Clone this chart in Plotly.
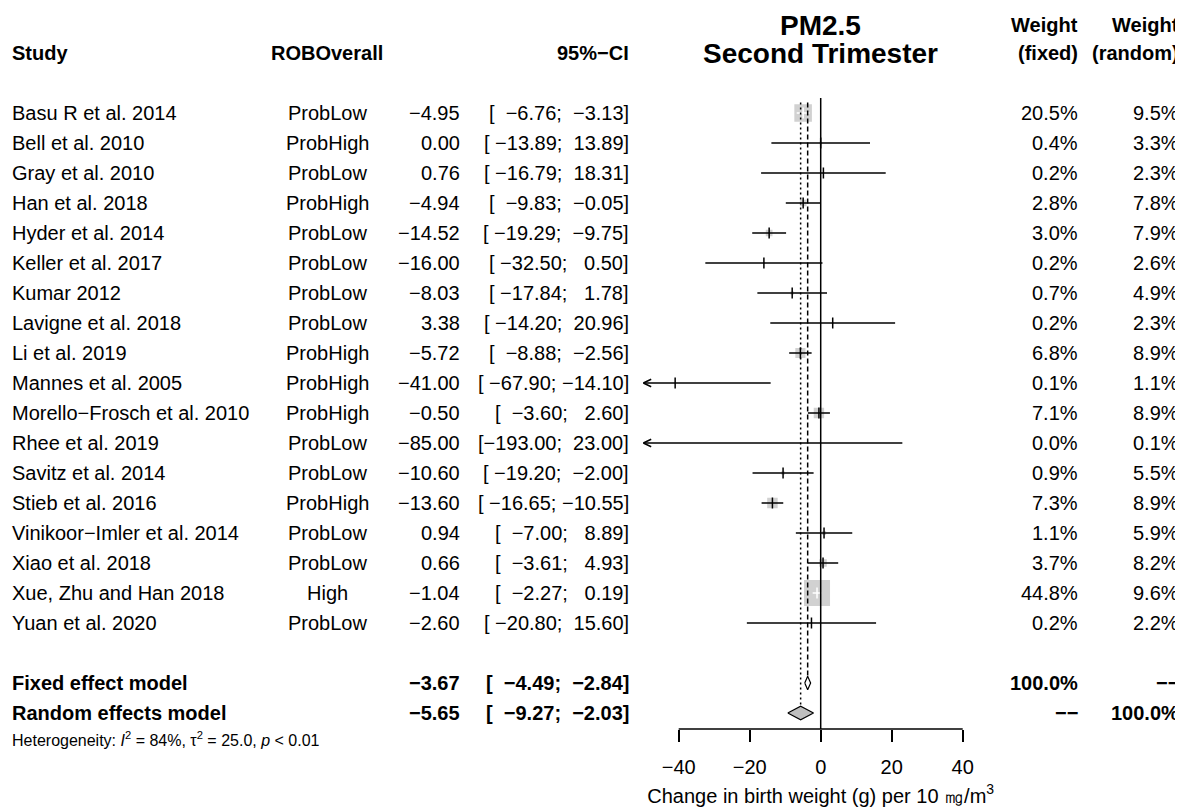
import math
import plotly.graph_objects as go

# ---------------- data ----------------
studies = ["Basu R et al. 2014", "Bell et al. 2010", "Gray et al. 2010", "Han et al. 2018",
           "Hyder et al. 2014", "Keller et al. 2017", "Kumar 2012", "Lavigne et al. 2018",
           "Li et al. 2019", "Mannes et al. 2005", "Morello\u2212Frosch et al. 2010",
           "Rhee et al. 2019", "Savitz et al. 2014", "Stieb et al. 2016",
           "Vinikoor\u2212Imler et al. 2014", "Xiao et al. 2018", "Xue, Zhu and Han 2018",
           "Yuan et al. 2020"]
rob = ["ProbLow", "ProbHigh", "ProbLow", "ProbHigh", "ProbLow", "ProbLow", "ProbLow",
       "ProbLow", "ProbHigh", "ProbHigh", "ProbHigh", "ProbLow", "ProbLow", "ProbHigh",
       "ProbLow", "ProbLow", "High", "ProbLow"]
te = [-4.95, 0.00, 0.76, -4.94, -14.52, -16.00, -8.03, 3.38, -5.72, -41.00, -0.50,
      -85.00, -10.60, -13.60, 0.94, 0.66, -1.04, -2.60]
lower = [-6.76, -13.89, -16.79, -9.83, -19.29, -32.50, -17.84, -14.20, -8.88, -67.90,
         -3.60, -193.00, -19.20, -16.65, -7.00, -3.61, -2.27, -20.80]
upper = [-3.13, 13.89, 18.31, -0.05, -9.75, 0.50, 1.78, 20.96, -2.56, -14.10, 2.60,
         23.00, -2.00, -10.55, 8.89, 4.93, 0.19, 15.60]
w_fixed = [20.5, 0.4, 0.2, 2.8, 3.0, 0.2, 0.7, 0.2, 6.8, 0.1, 7.1, 0.0, 0.9, 7.3, 1.1,
           3.7, 44.8, 0.2]
w_random = [9.5, 3.3, 2.3, 7.8, 7.9, 2.6, 4.9, 2.3, 8.9, 1.1, 8.9, 0.1, 5.5, 8.9, 5.9,
            8.2, 9.6, 2.2]

fixed_te, fixed_lo, fixed_hi = -3.67, -4.49, -2.84
random_te, random_lo, random_hi = -5.65, -9.27, -2.03
het_I2, het_tau2, het_p = "84%", "25.0", "0.01"

x_ticks = [-40, -20, 0, 20, 40]
x_ticktext = ["\u221240", "\u221220", "0", "20", "40"]
xlim = [-50, 50]

# ---------------- layout constants ----------------
OFF = 8                            # page body margin
FIG_W, FIG_H = 1183 - OFF, 808 - OFF
ROW0_PX, ROW_H = 113 - OFF, 30     # figure-pixel centre of first study row, row height
AXIS_PX = 729 - OFF                # figure-pixel y of the forest x axis
ZERO_PX, PX_PER_UNIT = 820.7 - OFF, 3.55
FONT = "Liberation Sans, Arial, Helvetica, sans-serif"
GRAY = "#BEBEBE"
N = len(studies)
ROW_FIXED, ROW_RANDOM, ROW_HET = N + 1, N + 2, N + 3
ROW_HEAD = -2
ROW_TITLE = -2.93


def row_paper(r):
    return 1 - (ROW0_PX + ROW_H * r) / FIG_H


def xp(px):
    return (px - OFF) / FIG_W


def minus(s):
    return s.replace("-", "\u2212")


def fmt(v):
    return f"{v:.2f}"


lo_w = max(len(fmt(v)) for v in lower)
hi_w = max(len(fmt(v)) for v in upper)


def ci_text(lo, hi):
    a = fmt(lo).rjust(lo_w)
    b = fmt(hi).rjust(hi_w)
    return minus("[" + a + "; " + b + "]").replace(" ", "\u00a0")


fig = go.Figure()

# ---------------- forest marks ----------------
max_w = max(w_fixed)
sq = [26 * math.sqrt(w / max_w) for w in w_fixed]
vis = [i for i in range(N) if xlim[0] <= te[i] <= xlim[1] and sq[i] > 0]
fig.add_trace(go.Scatter(
    x=[te[i] for i in vis], y=[i for i in vis], mode="markers",
    marker=dict(symbol="square", size=[sq[i] for i in vis], color=GRAY,
                line=dict(width=0)),
    hoverinfo="skip", showlegend=False))

inside = [(upper[i] - lower[i]) * PX_PER_UNIT < sq[i] for i in range(N)]
for colour, flag in (("black", False), ("white", True)):
    xs, ys = [], []
    for i in range(N):
        if inside[i] != flag:
            continue
        xs += [max(lower[i], xlim[0]), min(upper[i], xlim[1]), None]
        ys += [i, i, None]
    fig.add_trace(go.Scatter(x=xs, y=ys, mode="lines",
                             line=dict(color=colour, width=1.5),
                             hoverinfo="skip", showlegend=False))
    idx = [i for i in range(N) if inside[i] == flag and xlim[0] <= te[i] <= xlim[1]]
    fig.add_trace(go.Scatter(
        x=[te[i] for i in idx], y=idx, mode="markers",
        marker=dict(symbol="line-ns", size=8, line=dict(color=colour, width=1.5)),
        hoverinfo="skip", showlegend=False))

# arrows for clipped CIs
ax_len = 8 / PX_PER_UNIT
ay_len = 3.8 / ROW_H
xs, ys = [], []
for i in range(N):
    if lower[i] < xlim[0]:
        xs += [xlim[0] + ax_len, xlim[0], xlim[0] + ax_len, None]
        ys += [i - ay_len, i, i + ay_len, None]
    if upper[i] > xlim[1]:
        xs += [xlim[1] - ax_len, xlim[1], xlim[1] - ax_len, None]
        ys += [i - ay_len, i, i + ay_len, None]
fig.add_trace(go.Scatter(x=xs, y=ys, mode="lines", line=dict(color="black", width=1.5),
                         hoverinfo="skip", showlegend=False))

# vertical reference lines
dh = 6.8 / ROW_H
fig.add_trace(go.Scatter(x=[0, 0], y=[-0.5, (AXIS_PX - ROW0_PX) / ROW_H], mode="lines",
                         line=dict(color="black", width=1.5), hoverinfo="skip",
                         showlegend=False))
fig.add_trace(go.Scatter(x=[fixed_te, fixed_te], y=[-0.35, ROW_FIXED - dh], mode="lines",
                         line=dict(color="black", width=1.5, dash="5px,3px"),
                         hoverinfo="skip", showlegend=False))
fig.add_trace(go.Scatter(x=[random_te, random_te], y=[-0.35, ROW_RANDOM - dh], mode="lines",
                         line=dict(color="black", width=1.5, dash="2px,3px"),
                         hoverinfo="skip", showlegend=False))

# diamonds
for (t, lo, hi, r, fill) in ((fixed_te, fixed_lo, fixed_hi, ROW_FIXED, "white"),
                             (random_te, random_lo, random_hi, ROW_RANDOM, GRAY)):
    fig.add_trace(go.Scatter(x=[lo, t, hi, t, lo], y=[r, r - dh, r, r + dh, r],
                             mode="lines", fill="toself", fillcolor=fill,
                             line=dict(color="black", width=1.2),
                             hoverinfo="skip", showlegend=False))

# ---------------- text columns ----------------
ann = []


def add(text, xpx, row, anchor, size=20, bold=False, ypaper=None):
    if bold:
        text = "<b>" + text + "</b>"
    ann.append(dict(text=text, x=xp(xpx), y=row_paper(row) if ypaper is None else ypaper,
                    xref="paper", yref="paper", xanchor=anchor, yanchor="middle",
                    showarrow=False, font=dict(family=FONT, size=size, color="black")))


# page-pixel x positions of text columns
X_STUDY, X_ROB, X_TE, X_CI, X_WF, X_WR = 10, 327, 462, 631, 1080, 1181
X_TITLE = ZERO_PX + OFF

add("Study", X_STUDY, ROW_HEAD, "left", bold=True)
add("ROBOverall", X_ROB, ROW_HEAD, "center", bold=True)
add("95%\u2212CI", X_CI, ROW_HEAD, "right", bold=True)
add("Weight", X_WF, ROW_TITLE, "right", bold=True)
add("(fixed)", X_WF, ROW_HEAD, "right", bold=True)
add("Weight", X_WR, ROW_TITLE, "right", bold=True)
add("(random)", X_WR, ROW_HEAD, "right", bold=True)
add("PM2.5", X_TITLE, ROW_TITLE, "center", size=28, bold=True)
add("Second Trimester", X_TITLE, ROW_HEAD, "center", size=28, bold=True)

for i in range(N):
    add(studies[i], X_STUDY, i, "left")
    add(rob[i], X_ROB, i, "center")
    add(minus(fmt(te[i])), X_TE, i, "right")
    add(ci_text(lower[i], upper[i]), X_CI, i, "right")
    add(f"{w_fixed[i]:.1f}%", X_WF, i, "right")
    add(f"{w_random[i]:.1f}%", X_WR, i, "right")

add("Fixed effect model", X_STUDY, ROW_FIXED, "left", bold=True)
add(minus(fmt(fixed_te)), X_TE, ROW_FIXED, "right", bold=True)
add(ci_text(fixed_lo, fixed_hi), X_CI, ROW_FIXED, "right", bold=True)
add("100.0%", X_WF, ROW_FIXED, "right", bold=True)
add("\u2212\u2212", X_WR, ROW_FIXED, "right", bold=True)

add("Random effects model", X_STUDY, ROW_RANDOM, "left", bold=True)
add(minus(fmt(random_te)), X_TE, ROW_RANDOM, "right", bold=True)
add(ci_text(random_lo, random_hi), X_CI, ROW_RANDOM, "right", bold=True)
add("\u2212\u2212", X_WF, ROW_RANDOM, "right", bold=True)
add("100.0%", X_WR, ROW_RANDOM, "right", bold=True)

add(f"Heterogeneity: <i>I</i><sup>2</sup> = {het_I2}, \u03c4<sup>2</sup> = {het_tau2}, "
    f"<i>p</i> &lt; {het_p}", X_STUDY, ROW_HET, "left", size=16,
    ypaper=row_paper(ROW_RANDOM + 0.87))

# ---------------- axes ----------------
dom_left = (ZERO_PX + xlim[0] * PX_PER_UNIT) / FIG_W
dom_right = (ZERO_PX + xlim[1] * PX_PER_UNIT) / FIG_W

fig.update_layout(
    width=FIG_W, height=FIG_H,
    margin=dict(l=0, r=0, t=0, b=0),
    paper_bgcolor="white", plot_bgcolor="white",
    font=dict(family=FONT, size=20, color="black"),
    annotations=ann,
    xaxis=dict(domain=[dom_left, dom_right], range=xlim, showgrid=False, zeroline=False,
               showline=False, tickmode="array", tickvals=x_ticks, ticktext=x_ticktext,
               ticks="outside", ticklen=12, tickwidth=1.5, tickcolor="black",
               ticklabelstandoff=8,
               tickfont=dict(family=FONT, size=20, color="black"),
               title=dict(text="Change in birth weight (g) per 10 \u338e/m<sup>3</sup>",
                          font=dict(family=FONT, size=20, color="black"), standoff=11),
               fixedrange=True),
    yaxis=dict(domain=[1 - AXIS_PX / FIG_H, 1],
               range=[(AXIS_PX - ROW0_PX) / ROW_H, -ROW0_PX / ROW_H],
               visible=False, fixedrange=True),
    showlegend=False,
)

fig.add_shape(type="line", xref="x", yref="y domain", x0=x_ticks[0], x1=x_ticks[-1],
              y0=0, y1=0, line=dict(color="black", width=1.5))

fig.write_html("out.html")
